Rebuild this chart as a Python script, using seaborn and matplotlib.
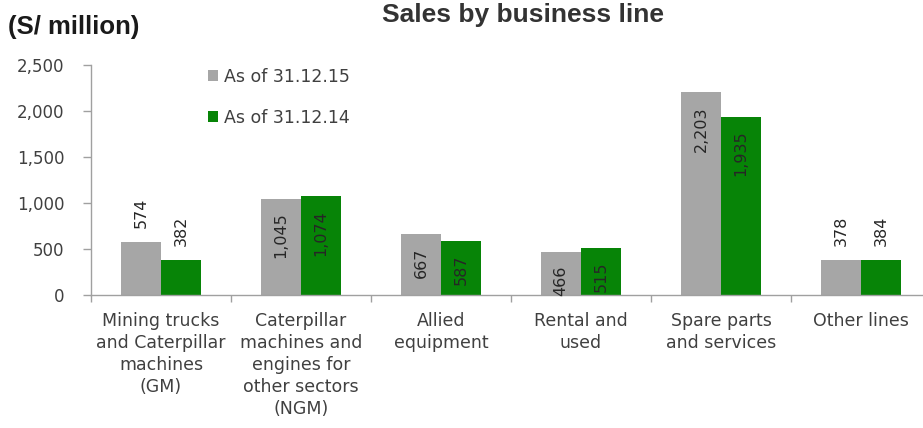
import matplotlib
matplotlib.use("Agg")
import matplotlib.pyplot as plt
from matplotlib.patches import Patch
import seaborn as sns
import pandas as pd
import numpy as np

# Sales by business line, S/ million
categories = [
    "Mining trucks\nand Caterpillar\nmachines\n(GM)",
    "Caterpillar\nmachines and\nengines for\nother sectors\n(NGM)",
    "Allied\nequipment",
    "Rental and\nused",
    "Spare parts\nand services",
    "Other lines",
]
series_names = ["As of 31.12.15", "As of 31.12.14"]
sales_2015 = [574, 1045, 667, 466, 2203, 378]
sales_2014 = [382, 1074, 587, 515, 1935, 384]
# labels placed above the bar rather than inside its top
outside_labels = [True, False, False, False, False, True]

y_ticks = [0, 500, 1000, 1500, 2000, 2500]

colors = ["#A6A6A6", "#078407"]

df = pd.DataFrame({
    "category": categories * 2,
    "series": [series_names[0]] * 6 + [series_names[1]] * 6,
    "value": sales_2015 + sales_2014,
})

sns.set_theme(style="white")
plt.rcParams["font.family"] = ["DejaVu Sans"]

W, H = 923, 428
fig = plt.figure(figsize=(W / 100, H / 100), dpi=100)
ax = fig.add_axes([91 / W, 1 - 295 / H, 840 / W, 230 / H])

sns.barplot(data=df, x="category", y="value", hue="series",
            palette=colors, width=0.57, saturation=1, ax=ax,
            legend=False, linewidth=0, dodge=True)

ax.set_xlim(-0.5, 5.5)
ax.set_ylim(0, 2500)
ax.set_xlabel("")
ax.set_ylabel("")

# value labels, rotated, inside top or above the bar
label_color = "#262626"
for container, vals in zip(ax.containers, [sales_2015, sales_2014]):
    for i, (bar, v) in enumerate(zip(container, vals)):
        xc = bar.get_x() + bar.get_width() / 2
        h = bar.get_height()
        if outside_labels[i]:
            ax.annotate(f"{v:,}", (xc, h), xytext=(0, 10), textcoords="offset points",
                        rotation=90, ha="center", va="bottom", fontsize=11.5,
                        color=label_color)
        else:
            ax.annotate(f"{v:,}", (xc, h), xytext=(0, -10), textcoords="offset points",
                        rotation=90, ha="center", va="top", fontsize=11.5,
                        color=label_color)

# axes styling
axis_color = "#A0A0A0"
for side in ["top", "right"]:
    ax.spines[side].set_visible(False)
for side in ["left", "bottom"]:
    ax.spines[side].set_color(axis_color)
    ax.spines[side].set_linewidth(1)

ax.set_yticks(y_ticks)
ax.set_yticklabels([f"{t:,}" for t in y_ticks])
ax.tick_params(axis="y", which="major", length=6, width=1, color=axis_color,
               direction="out", left=True, pad=13, labelsize=12, labelcolor="#404040")

ax.set_xticks(np.arange(6))
ax.set_xticklabels(categories, linespacing=1.3)
ax.tick_params(axis="x", which="major", length=0, pad=12, labelsize=12.5,
               labelcolor="#404040")
ax.set_xticks(np.arange(-0.5, 6.0, 1.0), minor=True)
ax.tick_params(axis="x", which="minor", length=5, width=1, color=axis_color,
               direction="out", bottom=True)
for lab in ax.get_xticklabels():
    lab.set_verticalalignment("top")
    lab.set_horizontalalignment("center")
    lab.set_multialignment("center")

# legend
handles = [Patch(facecolor=c, edgecolor="none") for c in colors]
ax.legend(handles, series_names, loc="upper left",
          bbox_to_anchor=(192 / W, 1 - 52 / H), bbox_transform=fig.transFigure,
          frameon=False, fontsize=12.5, handlelength=0.6, handleheight=0.6,
          handletextpad=0.35, labelspacing=1.35, labelcolor="#404040")

# headings
fig.text(523 / W, 1 - 22 / H, "Sales by business line", ha="center", va="baseline",
         fontsize=19, fontweight="bold", color="#333333",
         family=["Liberation Sans", "DejaVu Sans"])
fig.text(8 / W, 1 - 27 / H, "(S/ million)", ha="left", va="center",
         fontsize=18.5, fontweight="bold", color="#1a1a1a",
         family=["Liberation Sans", "DejaVu Sans"])

fig.savefig("out.png", dpi=100, facecolor="white")
